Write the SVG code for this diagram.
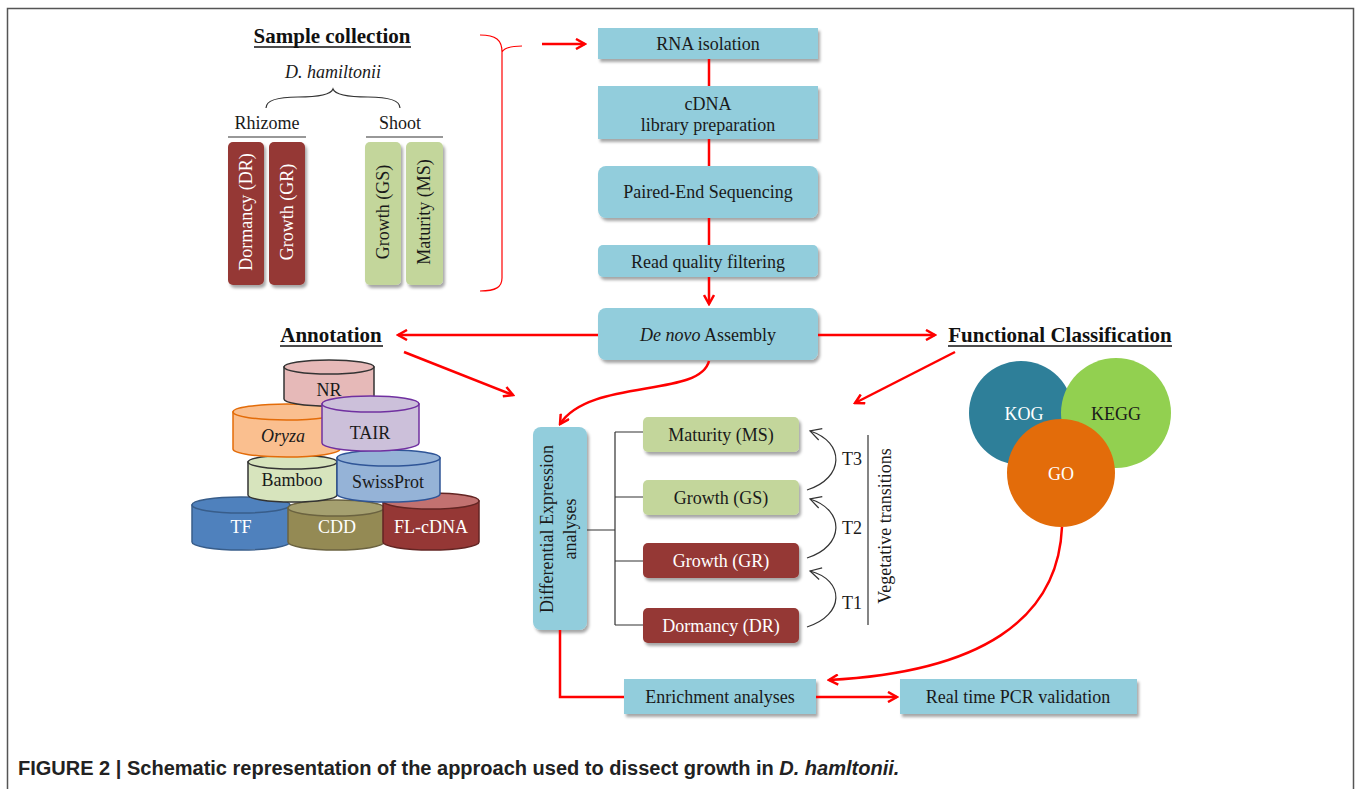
<svg xmlns="http://www.w3.org/2000/svg" width="1358" height="789" viewBox="0 0 1358 789">
<defs>
<filter id="sh" x="-10%" y="-10%" width="130%" height="140%">
<feDropShadow dx="2" dy="3" stdDeviation="1.8" flood-color="#000" flood-opacity="0.35"/>
</filter>
<marker id="ra" markerWidth="12" markerHeight="12" refX="10" refY="6" orient="auto" markerUnits="userSpaceOnUse">
<path d="M1,1 L10,6 L1,11" fill="none" stroke="#FF0000" stroke-width="2.5"/>
</marker>
<marker id="ka" markerWidth="14" markerHeight="14" refX="12" refY="7" orient="auto" markerUnits="userSpaceOnUse">
<path d="M1,1 L12,7 L1,13" fill="none" stroke="#333" stroke-width="1.2"/>
</marker>
</defs>
<style>
.t{font-family:"Liberation Serif","Times New Roman",serif;font-size:18px;fill:#1a1a1a;text-anchor:middle}
.w{fill:#fff}
.h{font-family:"Liberation Serif","Times New Roman",serif;font-size:21px;font-weight:bold;fill:#111;text-anchor:middle}
.blue{fill:#92CDDC}
.red{fill:#953734}
.grn{fill:#C3D69B}
.rl{fill:none;stroke:#FF0000;stroke-width:2.5}
.kl{fill:none;stroke:#333;stroke-width:1.2}
</style>
<rect x="0" y="0" width="1358" height="789" fill="#fff"/>
<path d="M7.5,789 V8.5 H1353.5 V789" fill="none" stroke="#555" stroke-width="1.5"/>

<g id="sample-collection">
<text class="h" x="332" y="43">Sample collection</text>
<line x1="254" y1="47" x2="411" y2="47" stroke="#111" stroke-width="1.5"/>
<text class="t" x="333" y="78" font-style="italic">D. hamiltonii</text>
<path class="kl" d="M266,108 Q266,97 298,97 Q330,97 333,89 Q336,97 368,97 Q400,97 400,108"/>
<text class="t" x="267" y="129">Rhizome</text>
<line x1="228" y1="137" x2="306" y2="137" stroke="#333" stroke-width="1.2"/>
<text class="t" x="400" y="129">Shoot</text>
<line x1="366" y1="137" x2="443" y2="137" stroke="#333" stroke-width="1.2"/>
</g>
<g id="bar-dr"><rect class="red" x="228" y="142" width="36" height="143" rx="5" filter="url(#sh)"/><text class="t w" font-size="18.5" transform="translate(252,212) rotate(-90)">Dormancy (DR)</text></g>
<g id="bar-gr"><rect class="red" x="269" y="142" width="36" height="143" rx="5" filter="url(#sh)"/><text class="t w" font-size="18.5" transform="translate(293,212) rotate(-90)">Growth (GR)</text></g>
<g id="bar-gs"><rect class="grn" x="365" y="142" width="36" height="143" rx="5" filter="url(#sh)"/><text class="t" font-size="18.5" transform="translate(389,212) rotate(-90)">Growth (GS)</text></g>
<g id="bar-ms"><rect class="grn" x="406" y="142" width="37" height="143" rx="5" filter="url(#sh)"/><text class="t" font-size="18.5" transform="translate(430,212) rotate(-90)">Maturity (MS)</text></g>

<g id="rna"><rect class="blue" x="598" y="28" width="220" height="31" filter="url(#sh)"/><text class="t" x="708" y="50">RNA isolation</text></g>
<g id="cdna"><rect class="blue" x="598" y="86" width="220" height="53" filter="url(#sh)"/><text class="t" x="708" y="110">cDNA</text><text class="t" x="708" y="131">library preparation</text></g>
<g id="pe"><rect class="blue" x="598" y="166" width="220" height="52" rx="8" filter="url(#sh)"/><text class="t" x="708" y="198">Paired-End Sequencing</text></g>
<g id="rq"><rect class="blue" x="598" y="245" width="220" height="32" rx="5" filter="url(#sh)"/><text class="t" x="708" y="268">Read quality filtering</text></g>
<g id="denovo"><rect class="blue" x="598" y="308" width="220" height="52" rx="8" filter="url(#sh)"/><text class="t" x="708" y="341"><tspan font-style="italic">De novo</tspan> Assembly</text></g>

<g id="annotation-title"><text class="h" x="331" y="342">Annotation</text><line x1="280" y1="346" x2="383" y2="346" stroke="#111" stroke-width="1.5"/></g>
<g id="func-title"><text class="h" x="1060" y="342">Functional Classification</text><line x1="948" y1="346" x2="1172" y2="346" stroke="#111" stroke-width="1.5"/></g>

<g id="databases" stroke-width="1.5">
<g id="db-tf"><path d="M192,505 V542 A49,8 0 0 0 290,542 V505 Z" fill="#4F81BD" stroke="#385D8A"/><ellipse cx="241" cy="505" rx="49" ry="8" fill="#4F81BD" stroke="#385D8A"/><text class="t w" x="241" y="533">TF</text></g>
<g id="db-cdd"><path d="M288,508 V542 A48,8 0 0 0 384,542 V508 Z" fill="#948A54" stroke="#6b6340"/><ellipse cx="336" cy="508" rx="48" ry="8" fill="#A5A070" stroke="#6b6340"/><text class="t w" x="337" y="533">CDD</text></g>
<g id="db-fl"><path d="M383,501 V542 A48,8 0 0 0 479,542 V501 Z" fill="#953735" stroke="#632523"/><ellipse cx="431" cy="501" rx="48" ry="8" fill="#C27170" stroke="#632523"/><text class="t w" x="431" y="533">FL-cDNA</text></g>
<g id="db-bamboo"><path d="M248,462 V495 A44.5,7 0 0 0 337,495 V462 Z" fill="#D7E4BD" stroke="#333"/><ellipse cx="292.5" cy="462" rx="44.5" ry="7" fill="#D7E4BD" stroke="#333"/><text class="t" x="292" y="486">Bamboo</text></g>
<g id="db-swiss"><path d="M337,458 V494 A51.5,8 0 0 0 440,494 V458 Z" fill="#95B3D7" stroke="#2F5597"/><ellipse cx="388.5" cy="458" rx="51.5" ry="8" fill="#95B3D7" stroke="#2F5597"/><text class="t" x="388" y="488">SwissProt</text></g>
<g id="db-oryza"><path d="M233,412 V449 A53.5,8 0 0 0 340,449 V412 Z" fill="#FABF8F" stroke="#E36C09"/><ellipse cx="286.5" cy="412" rx="53.5" ry="8" fill="#FABF8F" stroke="#E36C09"/><text class="t" x="283" y="442" font-style="italic">Oryza</text></g>
<g id="db-nr"><path d="M284,367 V399 A45,7 0 0 0 374,399 V367 Z" fill="#E6B9B8" stroke="#333"/><ellipse cx="329" cy="367" rx="45" ry="7" fill="#E6B9B8" stroke="#333"/><text class="t" x="329" y="396">NR</text></g>
<g id="db-tair"><path d="M322,404 V443 A48.5,8 0 0 0 419,443 V404 Z" fill="#CCC0DA" stroke="#7030A0"/><ellipse cx="370.5" cy="404" rx="48.5" ry="8" fill="#CCC0DA" stroke="#7030A0"/><text class="t" x="370" y="439">TAIR</text></g>
</g>

<g id="de"><rect class="blue" x="533" y="427" width="54" height="203" rx="8" filter="url(#sh)"/><text class="t" transform="translate(553,529) rotate(-90)">Differential Expression</text><text class="t" transform="translate(576,529) rotate(-90)">analyses</text></g>

<g id="ms"><rect class="grn" x="643" y="417" width="156" height="35" rx="5" filter="url(#sh)"/><text class="t" x="721" y="441">Maturity (MS)</text></g>
<g id="gs"><rect class="grn" x="643" y="480" width="156" height="35" rx="5" filter="url(#sh)"/><text class="t" x="721" y="504">Growth (GS)</text></g>
<g id="gr"><rect class="red" x="643" y="543" width="156" height="35" rx="5" filter="url(#sh)"/><text class="t w" x="721" y="567">Growth (GR)</text></g>
<g id="dr"><rect class="red" x="643" y="608" width="156" height="35" rx="5" filter="url(#sh)"/><text class="t w" x="721" y="632">Dormancy (DR)</text></g>

<g id="transitions">
<text class="t" x="852" y="465">T3</text>
<text class="t" x="852" y="534">T2</text>
<text class="t" x="852" y="609">T1</text>
<line x1="868" y1="435" x2="868" y2="625" stroke="#333" stroke-width="1.2"/>
<text class="t" transform="translate(891,526) rotate(-90)">Vegetative transitions</text>
</g>

<g id="circles">
<g id="kog"><circle cx="1021" cy="413" r="52" fill="#2E7F99"/><text class="t w" x="1024" y="420">KOG</text></g>
<g id="kegg"><circle cx="1116" cy="413" r="55" fill="#92D050"/><text class="t" x="1116" y="420" fill="#111">KEGG</text></g>
<g id="go"><circle cx="1061" cy="473" r="54" fill="#E36C0A"/><text class="t w" x="1061" y="480">GO</text></g>
</g>

<g id="enrich"><rect class="blue" x="624" y="679" width="192" height="35" filter="url(#sh)"/><text class="t" x="720" y="703">Enrichment analyses</text></g>
<g id="pcr"><rect class="blue" x="900" y="679" width="237" height="35" filter="url(#sh)"/><text class="t" x="1018" y="703">Real time PCR validation</text></g>

<g id="connectors">
<path d="M480,35 C496,35 502,40 502,52 C505,47 512,46 522,46 M502,52 L502,278 C502,287 496,291 480,291" fill="none" stroke="#FF0000" stroke-width="1.2"/>
<line class="rl" x1="542" y1="44" x2="585" y2="44" marker-end="url(#ra)"/>
<line class="rl" x1="709" y1="59" x2="709" y2="86"/>
<line class="rl" x1="709" y1="139" x2="709" y2="166"/>
<line class="rl" x1="709" y1="218" x2="709" y2="245"/>
<line class="rl" x1="709" y1="277" x2="709" y2="304" marker-end="url(#ra)"/>
<line class="rl" x1="598" y1="335" x2="398" y2="335" marker-end="url(#ra)"/>
<line class="rl" x1="818" y1="335" x2="935" y2="335" marker-end="url(#ra)"/>
<line class="rl" x1="404" y1="352" x2="513" y2="395" marker-end="url(#ra)"/>
<line class="rl" x1="955" y1="352" x2="855" y2="403" marker-end="url(#ra)"/>
<path class="rl" d="M709,361 C700,398 590,378 560,424" marker-end="url(#ra)"/>
<path class="rl" d="M560,630 V697 H624"/>
<line class="rl" x1="816" y1="697" x2="897" y2="697" marker-end="url(#ra)"/>
<path class="rl" d="M1062,527 C1058,620 980,672 829,680" marker-end="url(#ra)"/>
<path class="kl" d="M587,530 H615 M615,432 V625 M615,432 H643 M615,497 H643 M615,561 H643 M615,625 H643"/>
<path class="kl" d="M807,627 C845,615 845,580 810,571" marker-end="url(#ka)"/>
<path class="kl" d="M807,558 C845,546 845,510 810,499" marker-end="url(#ka)"/>
<path class="kl" d="M807,490 C845,478 845,442 810,431" marker-end="url(#ka)"/>
</g>

<text x="18" y="775" font-family="Liberation Sans, Arial, sans-serif" font-size="20" font-weight="bold" fill="#222">FIGURE 2 | Schematic representation of the approach used to dissect growth in <tspan font-style="italic">D. hamltonii.</tspan></text>
</svg>
